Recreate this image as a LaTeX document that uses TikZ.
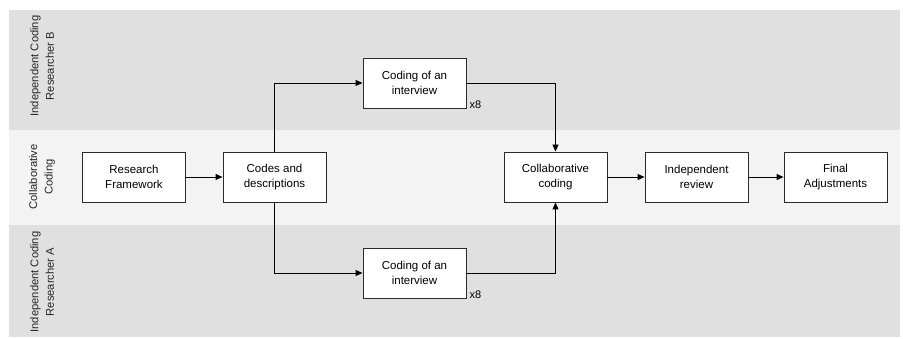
\documentclass[tikz,border=0pt]{standalone}
\usepackage{fontspec}
\setmainfont{Liberation Sans}
\usetikzlibrary{arrows.meta,positioning}
\definecolor{lanedark}{HTML}{E0E0E0}
\definecolor{lanelight}{HTML}{F3F3F3}
\definecolor{edge}{HTML}{2B2B2B}
\begin{document}
\begin{tikzpicture}[x=1pt,y=-1pt,
  box/.style={draw=edge,line width=0.9pt,fill=white,minimum width=103pt,minimum height=50pt,align=center,inner sep=0pt,font=\fontsize{11.5}{15}\selectfont},
  lanelabel/.style={rotate=90,align=center,font=\fontsize{11.2}{15.5}\selectfont,text=black!85},
  conn/.style={draw=black,line width=0.9pt,-{Triangle[length=7pt,width=6pt]}},
  rep/.style={font=\fontsize{11}{12}\selectfont,anchor=south west,inner sep=0pt}]
\useasboundingbox (0,0) rectangle (903,339);
\fill[white] (0,0) rectangle (903,339);
\fill[lanedark] (9,10) rectangle (900,130);
\fill[lanelight] (9,130) rectangle (900,225);
\fill[lanedark] (9,225) rectangle (900,337);
\node[lanelabel] (lb) at (42,66) {Independent Coding\\Researcher B};
\node[lanelabel] (lc) at (42,177) {Collaborative\\Coding};
\node[lanelabel] (la) at (42,282) {Independent Coding\\Researcher A};
\node[box] (rf) at (134,177) {Research\\Framework};
\node[box] (cd) at (274.5,177) {Codes and\\descriptions};
\node[box] (ct) at (414.5,83) {Coding of an\\interview};
\node[box] (cb) at (414.5,273) {Coding of an\\interview};
\node[box] (cc) at (555.5,177) {Collaborative\\coding};
\node[box] (ir) at (696.5,177) {Independent\\review};
\node[box] (fa) at (835.5,177) {Final\\Adjustments};
\node[rep] (xt) at ([xshift=3pt,yshift=0pt]ct.south east) {x8};
\node[rep] (xb) at ([xshift=3pt,yshift=0pt]cb.south east) {x8};
\draw[conn] (rf) -- (cd);
\draw[conn] (cd.north) |- (ct.west);
\draw[conn] (cd.south) |- (cb.west);
\draw[conn] (ct.east) -| (cc.north);
\draw[conn] (cb.east) -| (cc.south);
\draw[conn] (cc) -- (ir);
\draw[conn] (ir) -- (fa);
\end{tikzpicture}
\end{document}
